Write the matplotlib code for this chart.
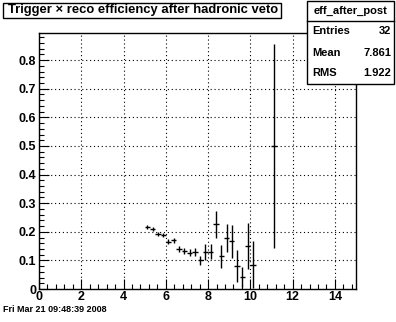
import matplotlib
matplotlib.use("Agg")
import matplotlib.pyplot as plt
from matplotlib.patches import Rectangle
from matplotlib.ticker import MultipleLocator, FuncFormatter

# efficiency per bin (bin width 0.25)
bin_centers = [5.125, 5.375, 5.625, 5.875, 6.125, 6.375, 6.625, 6.875, 7.125,
               7.375, 7.625, 7.875, 8.125, 8.375, 8.625, 8.875, 9.125, 9.375,
               9.625, 9.875, 10.125, 11.125]
eff = [0.216, 0.209, 0.192, 0.189, 0.165, 0.170, 0.139, 0.132, 0.127,
       0.130, 0.101, 0.130, 0.130, 0.226, 0.115, 0.177, 0.167, 0.080,
       0.041, 0.150, 0.085, 0.500]
eff_err = [0.007, 0.007, 0.007, 0.008, 0.009, 0.010, 0.010, 0.010, 0.013,
           0.014, 0.016, 0.028, 0.026, 0.048, 0.040, 0.049, 0.058, 0.056,
           0.035, 0.080, 0.082, 0.355]
half_width = 0.125

hist_name = "eff_after_post"
stats_labels = ["Entries", "Mean", "RMS"]
stats_values = ["32", "7.861", "1.922"]
title = "Trigger \u00d7 reco efficiency after hadronic veto"
stamp = "Fri Mar 21 09:48:39 2008"

W, H = 396, 322
fig = plt.figure(figsize=(W / 100, H / 100), dpi=100)
plt.rcParams['font.family'] = ['Liberation Sans', 'DejaVu Sans']


def fx(px):
    return px / W


def fy(py):
    return 1 - py / H


left, right, top, bottom = 39, 356, 33, 289
ax = fig.add_axes([fx(left), fy(bottom), fx(right) - fx(left), fy(top) - fy(bottom)])

ax.errorbar(bin_centers, eff, yerr=eff_err, xerr=half_width, fmt='none',
            ecolor='black', elinewidth=1.0, capsize=0)

ax.set_xlim(0, 15)
ax.set_ylim(0, 0.895)
ax.xaxis.set_major_locator(MultipleLocator(2))
ax.xaxis.set_minor_locator(MultipleLocator(0.4))
ax.yaxis.set_major_locator(MultipleLocator(0.1))
ax.yaxis.set_minor_locator(MultipleLocator(0.02))
ax.yaxis.set_major_formatter(FuncFormatter(lambda v, p: "0" if abs(v) < 1e-9 else f"{v:.1f}"))
ax.tick_params(which='both', direction='in', top=False, right=False, width=0.8)
ax.tick_params(which='major', length=7, labelsize=9)
ax.tick_params(axis='x', which='major', pad=1.5)
ax.tick_params(axis='y', which='major', pad=2)
ax.tick_params(which='minor', length=3.5)
for lab in ax.get_xticklabels() + ax.get_yticklabels():
    lab.set_fontweight('bold')
ax.grid(True, which='major', linestyle=(0, (1, 2.5)), color='black', linewidth=0.8)
for s in ax.spines.values():
    s.set_linewidth(1.0)

# title box
fig.add_artist(Rectangle((fx(3), fy(18)), fx(281) - fx(3), fy(3) - fy(18),
                         transform=fig.transFigure, facecolor='white',
                         edgecolor='black', linewidth=1.0))
fig.text(fx(143), fy(10.5), title, ha='center', va='center', fontsize=9.4,
         fontweight='bold')

# stats box
bx0, bx1, by0, by1, hdr = 307, 394, 1, 84, 21
fig.add_artist(Rectangle((fx(bx0), fy(by1)), fx(bx1) - fx(bx0), fy(by0) - fy(by1),
                         transform=fig.transFigure, facecolor='white',
                         edgecolor='black', linewidth=1.0))
fig.add_artist(plt.Line2D([fx(bx0), fx(bx1)], [fy(hdr), fy(hdr)],
                          transform=fig.transFigure, color='black', linewidth=1.0))
fig.text(fx((bx0 + bx1) / 2), fy(11), hist_name, ha='center', va='center',
         fontsize=8, fontweight='bold')
row_h = (by1 - hdr) / 3
for i, (lab, val) in enumerate(zip(stats_labels, stats_values)):
    yc = hdr + row_h * (i + 0.5)
    fig.text(fx(bx0 + 5), fy(yc), lab, ha='left', va='center', fontsize=8,
             fontweight='bold')
    fig.text(fx(bx1 - 3), fy(yc), val, ha='right', va='center', fontsize=8,
             fontweight='bold')

fig.text(fx(3), fy(310), stamp, ha='left', va='center', fontsize=6.5,
         fontweight='bold')

fig.savefig("out.png", dpi=100)
